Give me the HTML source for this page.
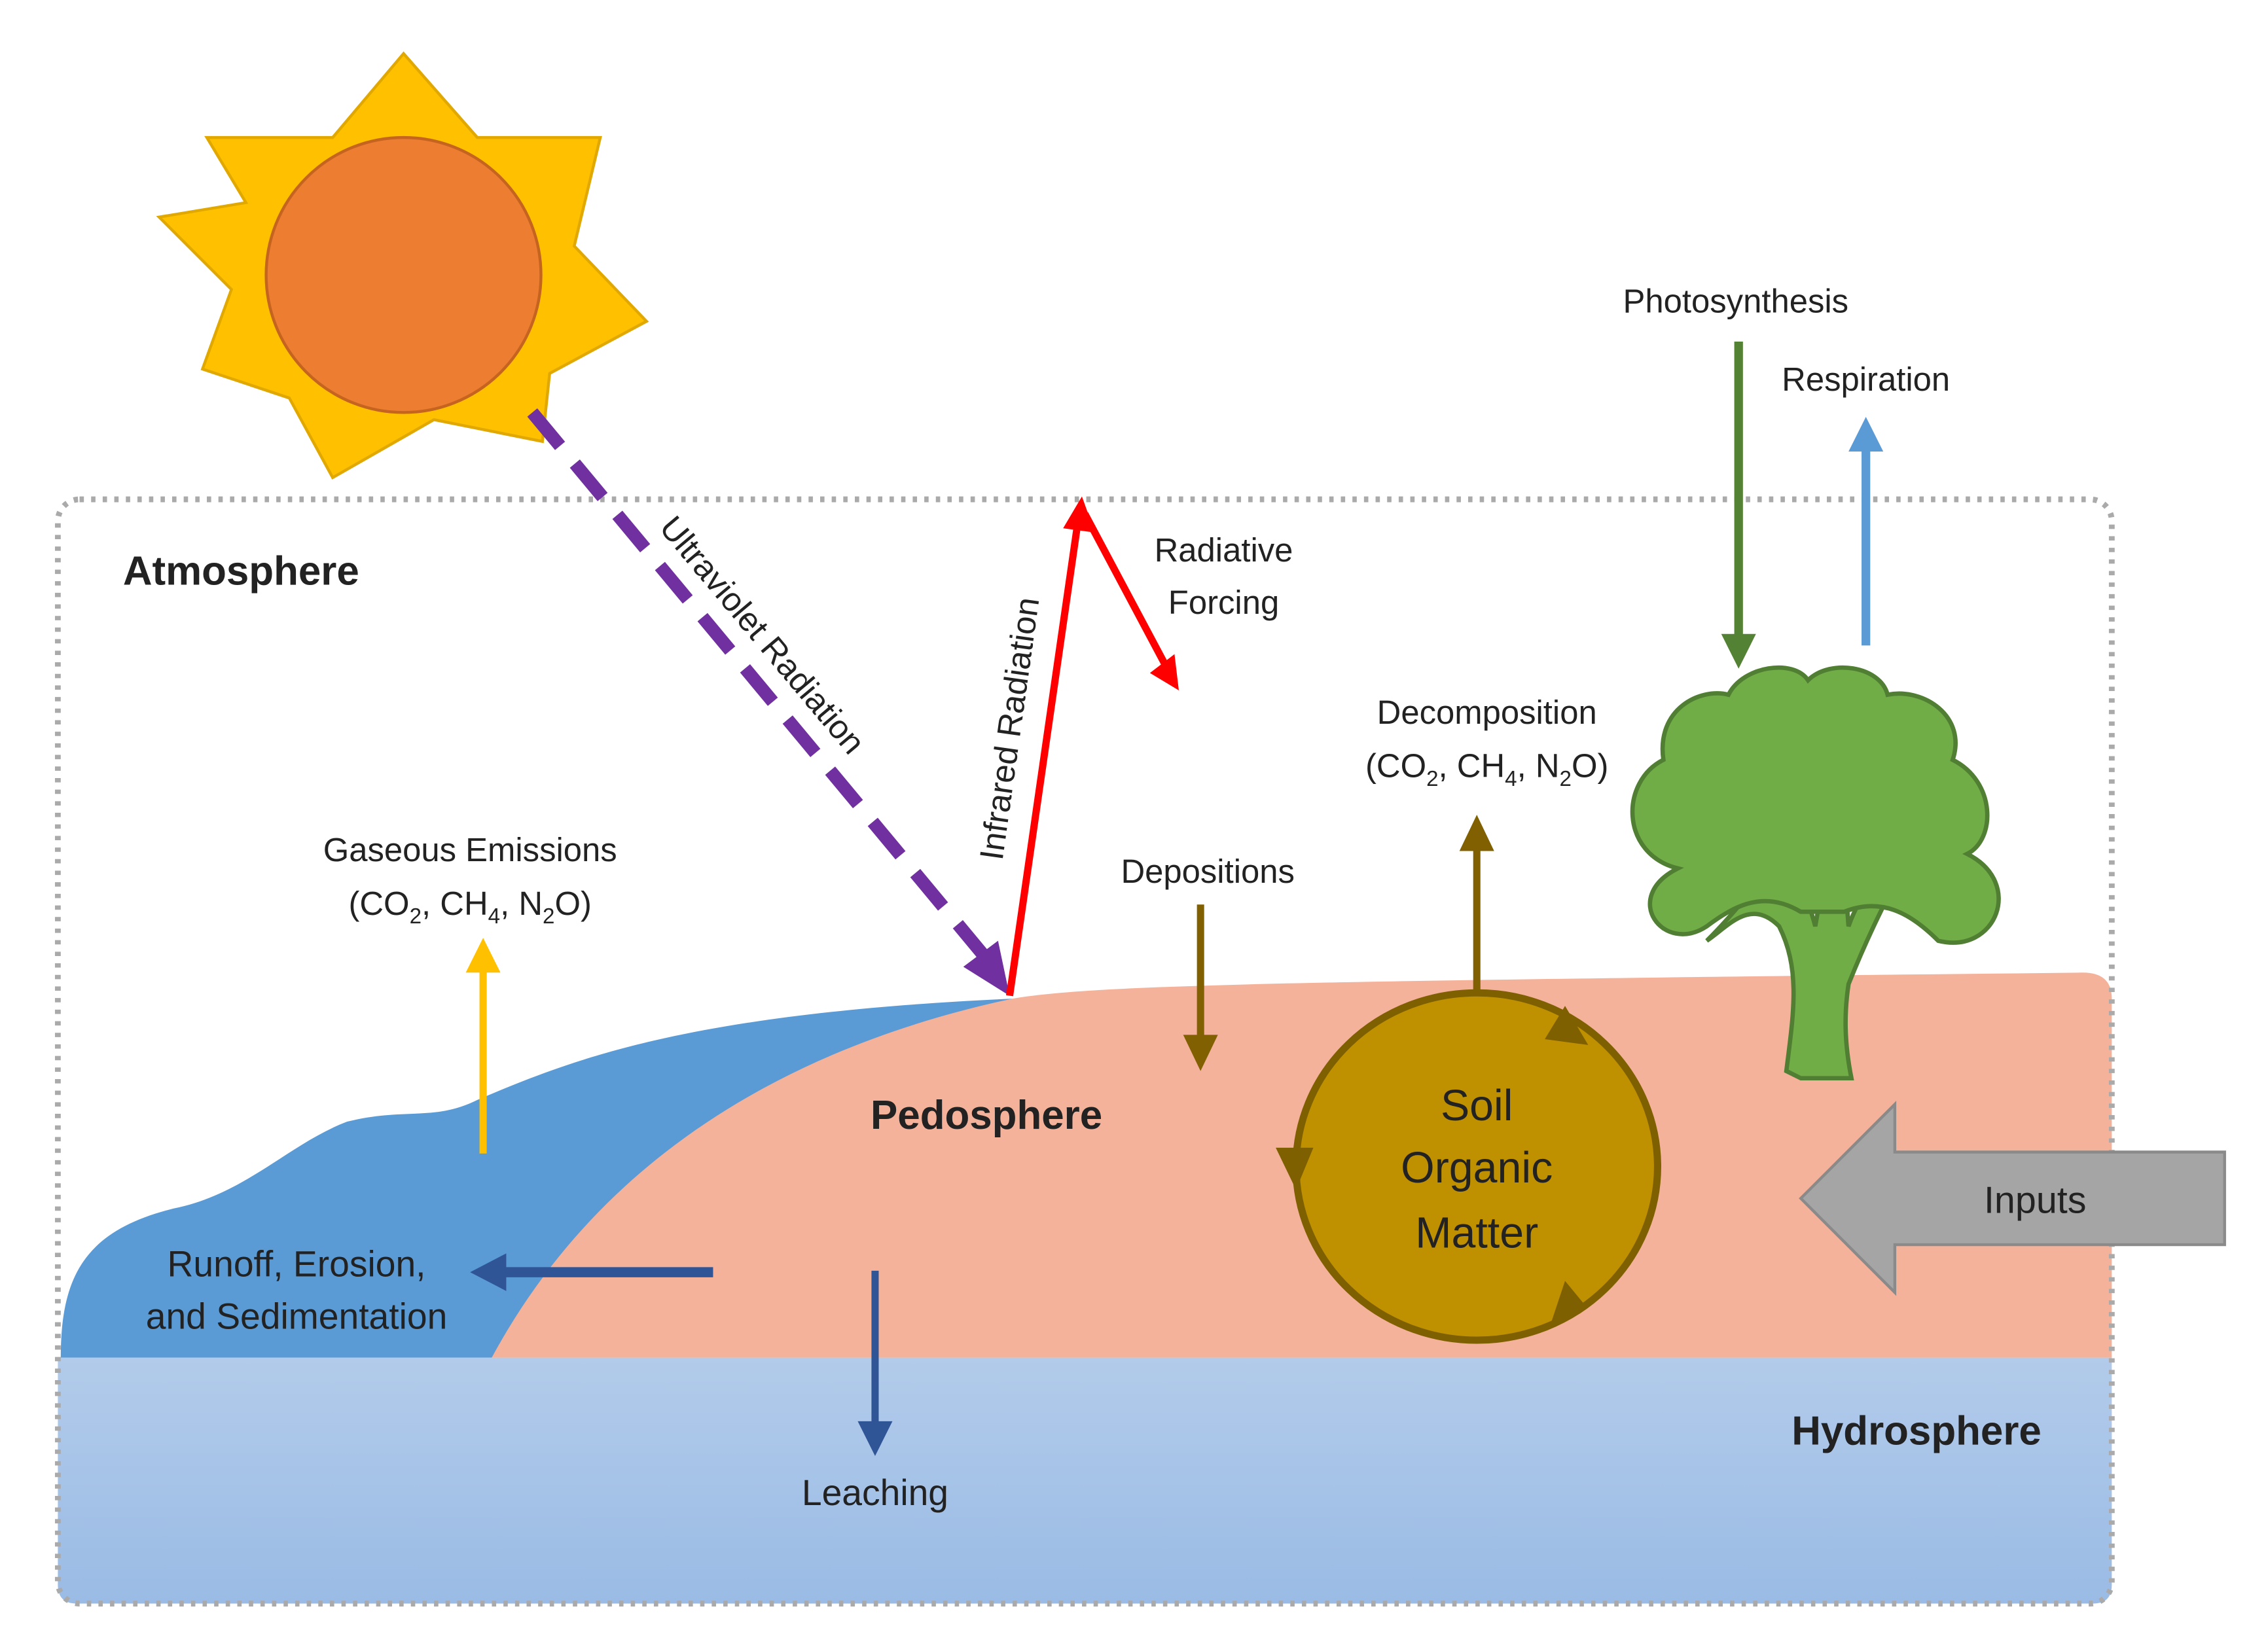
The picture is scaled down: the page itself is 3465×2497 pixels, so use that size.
<!DOCTYPE html>
<html><head><meta charset="utf-8"><style>
html,body{margin:0;padding:0;background:#fff}
svg{display:block}
text{font-family:"Liberation Sans",sans-serif;fill:#222}
</style></head><body>
<svg width="3465" height="2497" viewBox="0 0 1568 1129" preserveAspectRatio="none" xmlns="http://www.w3.org/2000/svg">
<defs>
<linearGradient id="hg" x1="0" y1="0" x2="0" y2="1"><stop offset="0" stop-color="#b2cbea"/><stop offset="1" stop-color="#9abbe5"/></linearGradient>
</defs>
<path d="M40 938 H1460 V1095 Q1460 1108 1447 1108 H53 Q40 1108 40 1095 Z" fill="url(#hg)"/>
<path d="M340 938 C380 840 500 720 700 690 C760 680 900 678 1440 672 Q1460 672 1460 690 V938 Z" fill="#F4B29A"/>
<path d="M42 938 C42 880 60 850 120 835 C170 825 200 790 240 775 C280 765 300 775 330 760 C400 730 480 700 700 690 C560 720 420 790 340 938 Z" fill="#5B9BD5"/>
<rect x="40" y="345" width="1420" height="763" rx="15" fill="none" stroke="#aaa" stroke-width="4" stroke-dasharray="3 5"/>
<polygon points="279,37 330,95 415,95 397,170 447,222 380,258 375,305 300,290 230,330 200,275 140,255 160,200 110,150 170,140 143,95 230,95" fill="#FFC000" stroke="#E0A800" stroke-width="2"/>
<circle cx="279" cy="190" r="95" fill="#ED7D31" stroke="#C5641F" stroke-width="2"/>
<line x1="368" y1="285" x2="680" y2="660" stroke="#7030A0" stroke-width="9" stroke-dasharray="30 16"/>
<polygon points="666,668 698,688 690,650" fill="#7030A0"/>
<text transform="translate(455,365) rotate(50)" font-size="23">Ultraviolet Radiation</text>
<line x1="698" y1="688" x2="745" y2="362" stroke="#FF0000" stroke-width="5"/>
<polygon points="735,365 748,343 757,368" fill="#FF0000"/>
<line x1="750" y1="355" x2="807" y2="462" stroke="#FF0000" stroke-width="5"/>
<polygon points="795,465 815,477 812,452" fill="#FF0000"/>
<text transform="translate(693,595) rotate(-82)" font-size="23">Infrared Radiation</text>
<text x="846" y="388" font-size="23" text-anchor="middle">Radiative</text>
<text x="846" y="424" font-size="23" text-anchor="middle">Forcing</text>
<text x="85" y="404" font-size="28" font-weight="bold">Atmosphere</text>
<text x="682" y="780" font-size="28" font-weight="bold" text-anchor="middle">Pedosphere</text>
<text x="1325" y="998" font-size="28" font-weight="bold" text-anchor="middle">Hydrosphere</text>
<text x="325" y="595" font-size="23" text-anchor="middle">Gaseous Emissions</text>
<text x="325" y="632" font-size="23" text-anchor="middle">(CO<tspan font-size="15" dy="6">2</tspan><tspan dy="-6">, CH</tspan><tspan font-size="15" dy="6">4</tspan><tspan dy="-6">, N</tspan><tspan font-size="15" dy="6">2</tspan><tspan dy="-6">O)</tspan></text>
<line x1="334" y1="797" x2="334" y2="668" stroke="#FFC000" stroke-width="5"/>
<polygon points="322,672 334,648 346,672" fill="#FFC000"/>
<text x="835" y="610" font-size="23" text-anchor="middle">Depositions</text>
<line x1="830" y1="625" x2="830" y2="718" stroke="#806000" stroke-width="5"/>
<polygon points="818,715 830,740 842,715" fill="#806000"/>
<text x="1028" y="500" font-size="23" text-anchor="middle">Decomposition</text>
<text x="1028" y="537" font-size="23" text-anchor="middle">(CO<tspan font-size="15" dy="6">2</tspan><tspan dy="-6">, CH</tspan><tspan font-size="15" dy="6">4</tspan><tspan dy="-6">, N</tspan><tspan font-size="15" dy="6">2</tspan><tspan dy="-6">O)</tspan></text>
<line x1="1021" y1="688" x2="1021" y2="585" stroke="#806000" stroke-width="5"/>
<polygon points="1009,588 1021,563 1033,588" fill="#806000"/>
<ellipse cx="1021" cy="806" rx="125" ry="120" fill="#BF9000" stroke="#7F6000" stroke-width="5"/>
<polygon points="1068,718 1082,695 1098,722" fill="#7F6000"/>
<polygon points="882,793 896,822 908,793" fill="#7F6000"/>
<polygon points="1072,915 1096,902 1082,885" fill="#7F6000"/>
<text x="1021" y="774" font-size="30" text-anchor="middle">Soil</text>
<text x="1021" y="817" font-size="30" text-anchor="middle">Organic</text>
<text x="1021" y="862" font-size="30" text-anchor="middle">Matter</text>
<polygon points="1538,796 1310,796 1310,763 1245,828 1310,893 1310,860 1538,860" fill="#A5A5A5" stroke="#8a8a8a" stroke-width="2"/>
<text x="1407" y="838" font-size="26" text-anchor="middle">Inputs</text>
<line x1="493" y1="879" x2="345" y2="879" stroke="#2F5597" stroke-width="7"/>
<polygon points="350,866 325,879 350,892" fill="#2F5597"/>
<text x="205" y="882" font-size="25" text-anchor="middle">Runoff, Erosion,</text>
<text x="205" y="918" font-size="25" text-anchor="middle">and Sedimentation</text>
<line x1="605" y1="878" x2="605" y2="985" stroke="#2F5597" stroke-width="5"/>
<polygon points="593,982 605,1006 617,982" fill="#2F5597"/>
<text x="605" y="1040" font-size="25" text-anchor="middle">Leaching</text>
<text x="1200" y="216" font-size="23" text-anchor="middle">Photosynthesis</text>
<text x="1290" y="270" font-size="23" text-anchor="middle">Respiration</text>
<line x1="1202" y1="236" x2="1202" y2="440" stroke="#548235" stroke-width="6"/>
<polygon points="1190,438 1202,462 1214,438" fill="#548235"/>
<line x1="1290" y1="446" x2="1290" y2="310" stroke="#5B9BD5" stroke-width="6"/>
<polygon points="1278,312 1290,288 1302,312" fill="#5B9BD5"/>
<g fill="#70AD47" stroke="#507E32" stroke-width="3">
<path d="M1245 745 L1235 740 C1240 700 1245 670 1230 640 C1210 620 1195 640 1180 650 C1200 630 1215 610 1225 600 L1240 600 C1250 620 1255 640 1255 640 L1262 600 L1275 600 L1278 640 C1285 620 1295 610 1300 600 L1315 600 C1300 630 1290 650 1278 680 C1275 700 1275 720 1280 745 Z"/>
<path d="M1160 600 C1120 590 1120 540 1150 525 C1145 490 1175 475 1195 480 C1205 460 1240 455 1250 470 C1265 455 1300 460 1305 480 C1330 475 1360 495 1350 525 C1380 540 1380 580 1360 590 C1400 610 1380 660 1340 650 C1320 630 1300 620 1275 630 L1245 630 C1220 615 1200 625 1180 640 C1150 660 1120 620 1160 600 Z"/>
</g>
</svg>
</body></html>
